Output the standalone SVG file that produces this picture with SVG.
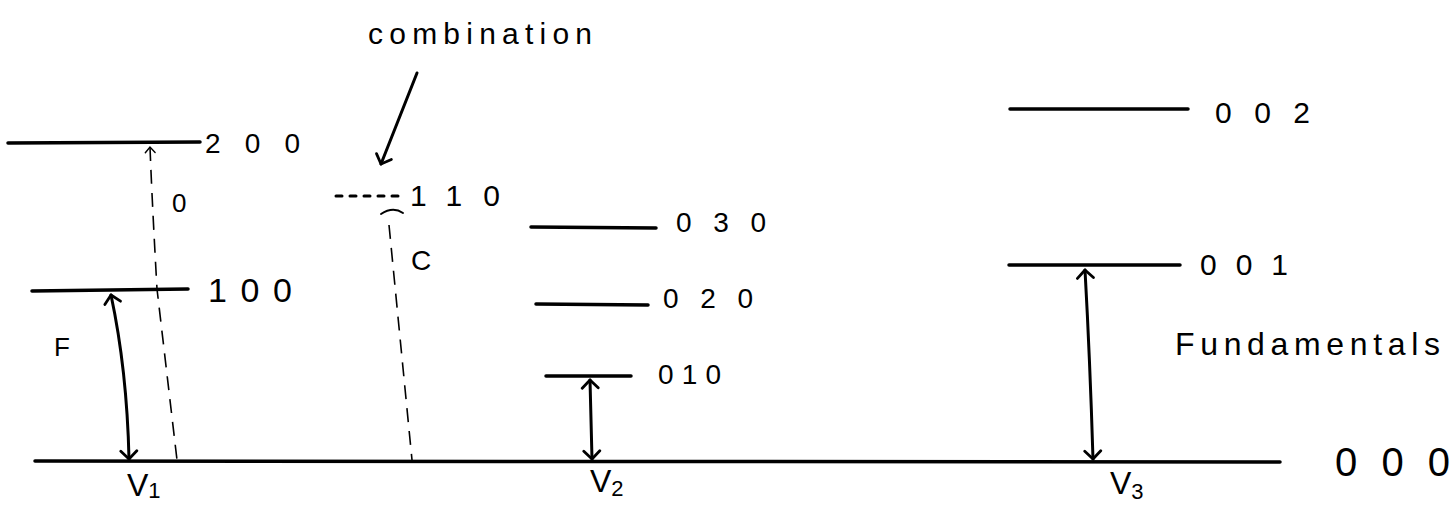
<svg xmlns="http://www.w3.org/2000/svg" width="1455" height="507" viewBox="0 0 1455 507">
<defs>
<style>
.lvl{stroke:#000;stroke-width:3.5;stroke-linecap:round;fill:none}
.arr{stroke:#000;stroke-width:3;fill:none;stroke-linecap:round;stroke-linejoin:round}
.dash{stroke:#000;stroke-width:1.6;fill:none;stroke-dasharray:14 9}
.t{font-family:"Liberation Sans","DejaVu Sans",sans-serif;fill:#000}
.lab{font-size:28px}
</style>
<marker id="head" viewBox="0 0 20 20" refX="10" refY="10" markerWidth="20" markerHeight="20" markerUnits="userSpaceOnUse" orient="auto-start-reverse">
<path d="M2,2 L10,10 L2,18" stroke="#000" stroke-width="2.8" fill="none" stroke-linecap="round" stroke-linejoin="round"/>
</marker>
<marker id="headS" viewBox="0 0 20 20" refX="10" refY="10" markerWidth="14" markerHeight="14" markerUnits="userSpaceOnUse" orient="auto-start-reverse">
<path d="M2,3 L10,10 L2,17" stroke="#000" stroke-width="2" fill="none" stroke-linecap="round"/>
</marker>
</defs>

<g id="baseline">
<line class="lvl" x1="35" y1="461" x2="1280" y2="462"/>
<text class="t" x="1335" y="476" font-size="40" textLength="115" lengthAdjust="spacing">000</text>
</g>

<g id="level-200">
<line class="lvl" x1="8" y1="143" x2="200" y2="142"/>
<text class="t lab" x="205" y="153" textLength="95" lengthAdjust="spacing">200</text>
</g>

<g id="level-100">
<line class="lvl" x1="32" y1="291" x2="188" y2="289"/>
<text class="t" x="208" y="302" font-size="34" textLength="84" lengthAdjust="spacing">100</text>
</g>

<g id="level-110">
<line stroke="#000" stroke-width="3" stroke-dasharray="6 8" stroke-linecap="round" x1="336" y1="196" x2="400" y2="196"/>
<text class="t" x="410" y="206" font-size="30" textLength="90" lengthAdjust="spacing">110</text>
</g>

<g id="level-030">
<line class="lvl" x1="531" y1="227" x2="656" y2="228"/>
<text class="t lab" x="676" y="232" textLength="90" lengthAdjust="spacing">030</text>
</g>

<g id="level-020">
<line class="lvl" x1="536" y1="304" x2="648" y2="305"/>
<text class="t lab" x="663" y="308" textLength="90" lengthAdjust="spacing">020</text>
</g>

<g id="level-010">
<line class="lvl" x1="546" y1="376" x2="631" y2="376"/>
<text class="t lab" x="658" y="384" textLength="63" lengthAdjust="spacing">010</text>
</g>

<g id="level-002">
<line class="lvl" x1="1010" y1="109" x2="1188" y2="109"/>
<text class="t" x="1215" y="123" font-size="30" textLength="95" lengthAdjust="spacing">002</text>
</g>

<g id="level-001">
<line class="lvl" x1="1009" y1="265" x2="1180" y2="265"/>
<text class="t" x="1200" y="275" font-size="30" textLength="88" lengthAdjust="spacing">001</text>
</g>

<g id="labels">
<text class="t" x="368" y="44" font-size="30" textLength="224" lengthAdjust="spacing">combination</text>
<text class="t" x="172" y="212" font-size="26">0</text>
<text class="t" x="54" y="356" font-size="26">F</text>
<text class="t" x="411" y="270" font-size="28">C</text>
<text class="t" x="1175" y="355" font-size="32" textLength="265" lengthAdjust="spacing">Fundamentals</text>
<text class="t" x="127" y="496" font-size="32">V<tspan font-size="22" dy="2">1</tspan></text>
<text class="t" x="590" y="492" font-size="32">V<tspan font-size="22" dy="4">2</tspan></text>
<text class="t" x="1110" y="494" font-size="32">V<tspan font-size="22" dy="5">3</tspan></text>
</g>

<g id="connectors">
<path class="arr" d="M417,73 L381,164" marker-end="url(#head)"/>
<path class="arr" d="M111,295 Q127,370 129,459" marker-start="url(#head)" marker-end="url(#head)"/>
<path class="arr" d="M590,380 L592,459" marker-start="url(#head)" marker-end="url(#head)"/>
<path class="arr" d="M1085,270 Q1090,360 1093,459" marker-start="url(#head)" marker-end="url(#head)"/>
<path class="dash" d="M150,147 Q152,200 157,289 L177,460" marker-start="url(#headS)"/>
<path class="dash" d="M389,225 L412,460"/>
<path d="M381,214 Q393,206 403,213" stroke="#000" stroke-width="2" fill="none" stroke-linecap="round"/>
</g>
</svg>
